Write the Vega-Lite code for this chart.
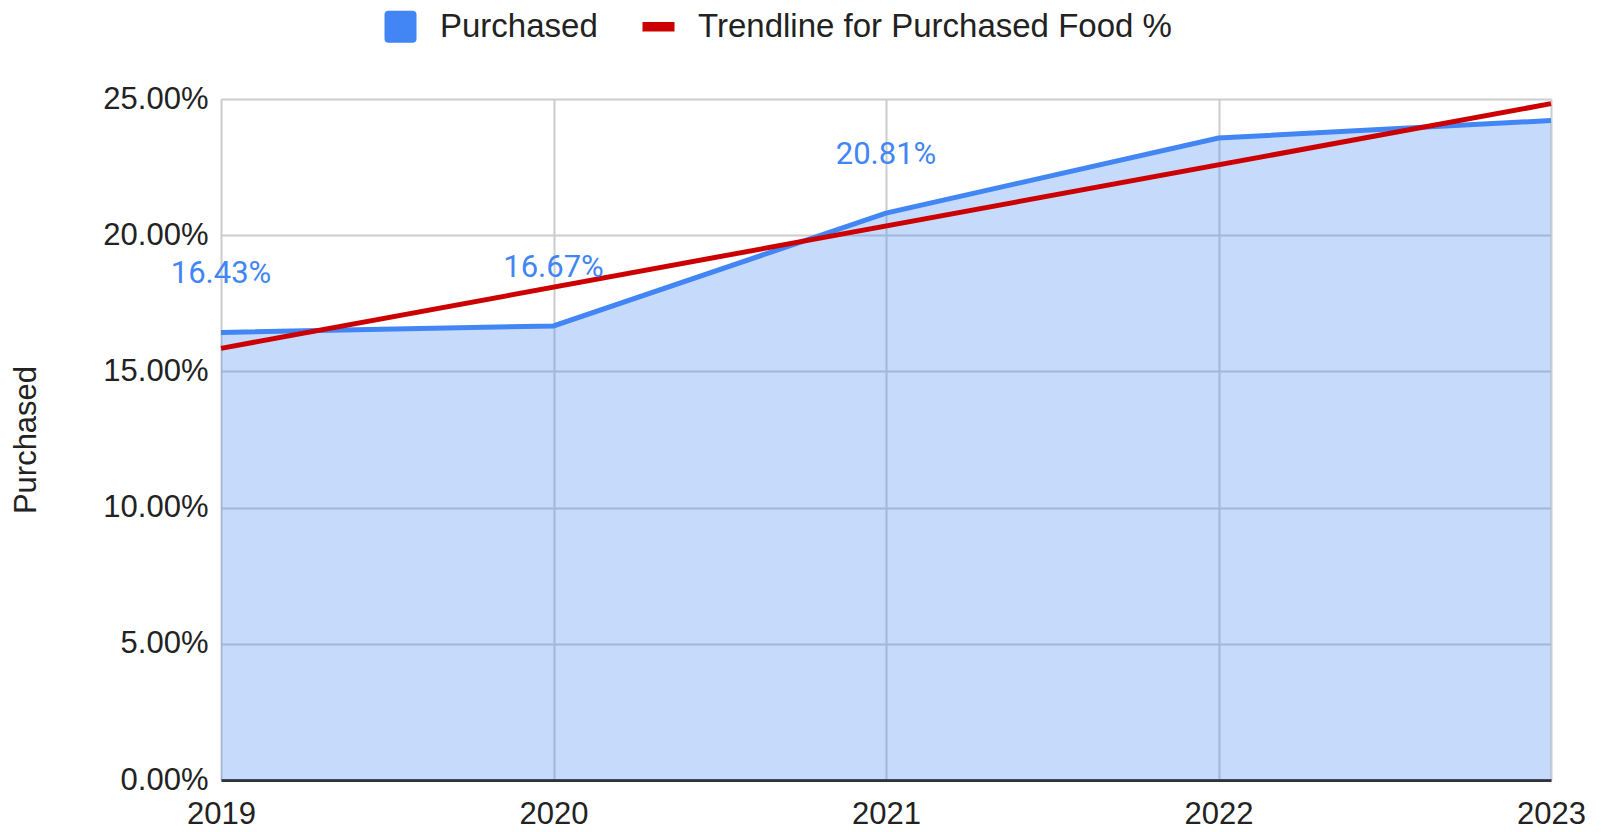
{
  "$schema": "https://vega.github.io/schema/vega-lite/v6.json",
  "autosize": {"type": "none"},
  "padding": {"left": 221, "top": 99, "right": 51, "bottom": 52},
  "width": 1330,
  "height": 681,
  "background": "white",
  "config": {
    "view": {"stroke": null},
    "axis": {"labelFont": "Liberation Sans", "titleFont": "Liberation Sans", "labelColor": "#222222", "titleColor": "#222222", "gridColor": "#CCCCCC", "gridWidth": 2}
  },
  "data": {
    "values": [
      {"year": 2019, "pct": 0.1643},
      {"year": 2020, "pct": 0.1667},
      {"year": 2021, "pct": 0.2081},
      {"year": 2022, "pct": 0.2357},
      {"year": 2023, "pct": 0.2421}
    ]
  },
  "encoding": {
    "x": {
      "field": "year", "type": "quantitative",
      "scale": {"domain": [2019, 2023], "nice": false, "zero": false},
      "axis": {"values": [2019, 2020, 2021, 2022, 2023], "format": "d", "title": null, "labelFontSize": 31, "labelPadding": 19, "ticks": false, "domainColor": "#333333", "domainWidth": 3, "labelFlush": false}
    },
    "y": {
      "field": "pct", "type": "quantitative",
      "scale": {"domain": [0, 0.25], "nice": false},
      "axis": {"values": [0, 0.05, 0.1, 0.15, 0.2, 0.25], "format": ".2%", "title": "Purchased", "titleFontSize": 31, "titleFontWeight": "normal", "titlePadding": 60, "labelFontSize": 31, "labelPadding": 13, "ticks": false, "domain": false}
    }
  },
  "layer": [
    {
      "mark": {"type": "area", "color": "#4285F4", "fillOpacity": 0.3}
    },
    {
      "mark": {"type": "line", "strokeWidth": 5},
      "encoding": {
        "color": {
          "datum": "Purchased",
          "scale": {"domain": ["Purchased", "Trendline for Purchased Food %"], "range": ["#4285F4", "#CC0000"]},
          "legend": {
            "orient": "none", "legendX": 163, "legendY": -89, "direction": "horizontal", "title": null,
            "labelFont": "Liberation Sans", "labelFontSize": 33, "labelColor": "#222222", "labelOffset": 23, "columnPadding": 44, "labelLimit": 0,
            "symbolSize": 1024, "symbolStrokeWidth": 0,
            "encode": {"symbols": {"update": {
              "shape": {"signal": "datum.value === 'Purchased' ? 'M-1,-0.75Q-1,-1,-0.75,-1H0.75Q1,-1,1,-0.75V0.75Q1,1,0.75,1H-0.75Q-1,1,-1,0.75Z' : 'M-1,-0.3H1V0.3H-1Z'"},
              "fill": {"signal": "datum.value === 'Purchased' ? '#4285F4' : '#CC0000'"},
              "fillOpacity": {"value": 1},
              "opacity": {"value": 1},
              "strokeWidth": {"value": 0}
            }}}
          }
        }
      }
    },
    {
      "transform": [{"regression": "pct", "on": "year"}],
      "mark": {"type": "line", "strokeWidth": 5},
      "encoding": {"color": {"datum": "Trendline for Purchased Food %"}}
    },
    {
      "transform": [{"filter": "datum.year <= 2021"}],
      "mark": {"type": "text", "font": "Roboto", "fontSize": 31, "color": "#4285F4", "dy": -58, "align": "center", "baseline": "middle"},
      "encoding": {"text": {"field": "pct", "type": "quantitative", "format": ".2%"}}
    }
  ]
}
